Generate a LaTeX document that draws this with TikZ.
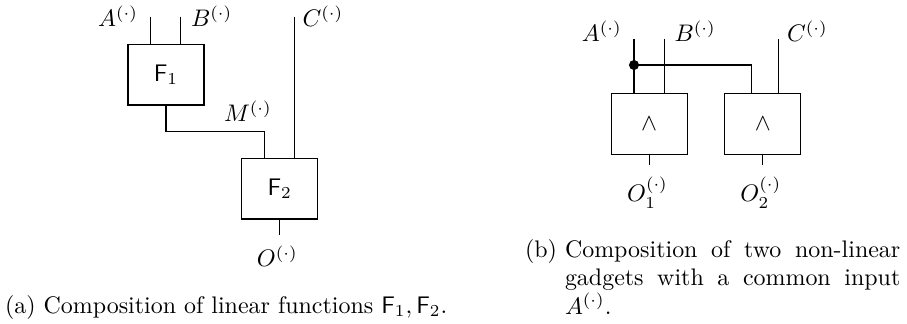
\documentclass[tikz,border=0pt]{standalone}
\usepackage{amsmath}
\begin{document}
\begin{tikzpicture}[x=0.4175pt,y=-0.4175pt,
  gate/.style={draw,line width=0.45pt,minimum width=31.7pt,minimum height=25.3pt,inner sep=0pt},
  wire/.style={line width=0.45pt},
  lbl/.style={inner sep=0pt,outer sep=0pt},
  junction/.style={circle,fill,inner sep=0pt,minimum size=4.2pt}]
\useasboundingbox (0,0) rectangle (907,323);
% ---------- (a) ----------
\node[gate] (F1) at (166,74.7) {$\mathsf{F}_1$};
\node[gate] (F2) at (279.7,188.7) {$\mathsf{F}_2$};
\coordinate (a1) at (150.7,16.7);
\coordinate (b1) at (180.7,16.7);
\coordinate (c1) at (294.3,16.7);
\coordinate (m1) at (166,131.7);
\coordinate (m2) at (264.3,131.7);
\coordinate (o1) at (279.7,235);
\draw[wire] (a1) -- (a1 |- F1.north);
\draw[wire] (b1) -- (b1 |- F1.north);
\draw[wire] (c1) -- (c1 |- F2.north);
\draw[wire] (F1.south) -- (m1) -- (m2) -- (m2 |- F2.north);
\draw[wire] (F2.south) -- (o1);
\node[lbl,anchor=base east] (la1) at (138,26.7) {$A^{(\cdot)}$};
\node[lbl,anchor=base west] (lb1) at (191,26.7) {$B^{(\cdot)}$};
\node[lbl,anchor=base west] (lc1) at (302.5,26.7) {$C^{(\cdot)}$};
\node[lbl,anchor=base west] (lm1) at (224,121.7) {$M^{(\cdot)}$};
\node[lbl,anchor=base] (lo1) at (277.3,266.7) {$O^{(\cdot)}$};
\node[lbl,anchor=base west] (capa) at (5,313) {(a) Composition of linear functions $\mathsf{F}_1, \mathsf{F}_2$.};
% ---------- (b) ----------
\node[gate] (G1) at (649.2,124.2) {$\wedge$};
\node[gate] (G2) at (762.8,124.2) {$\wedge$};
\coordinate (a2) at (634,39.3);
\coordinate (b2) at (664.7,39.3);
\coordinate (c2) at (778.3,39.3);
\node[junction] (dot) at (634,65) {};
\coordinate (h2) at (751.7,65);
\coordinate (p1) at (649.2,165);
\coordinate (p2) at (762.8,165);
\draw[wire] (a2) -- (a2 |- G1.north);
\draw[wire] (b2) -- (b2 |- G1.north);
\draw[wire] (c2) -- (c2 |- G2.north);
\draw[wire] (dot.center) -- (h2) -- (h2 |- G2.north);
\draw[wire] (G1.south) -- (p1);
\draw[wire] (G2.south) -- (p2);
\node[lbl,anchor=base east] (la2) at (621.7,41.7) {$A^{(\cdot)}$};
\node[lbl,anchor=base west] (lb2) at (674.5,41.7) {$B^{(\cdot)}$};
\node[lbl,anchor=base west] (lc2) at (787,41.7) {$C^{(\cdot)}$};
\node[lbl,anchor=base] (lo2a) at (647.5,201.7) {$O^{(\cdot)}_1$};
\node[lbl,anchor=base] (lo2b) at (760.8,201.7) {$O^{(\cdot)}_2$};
\node[lbl,anchor=base west] (capb) at (525,257) {(b)};
\node[lbl,anchor=base west] (capbt) at (565,257) {\parbox[t]{140pt}{Composition of two non-linear\linebreak gadgets with a common input\linebreak $A^{(\cdot)}$.}};
\end{tikzpicture}
\end{document}
